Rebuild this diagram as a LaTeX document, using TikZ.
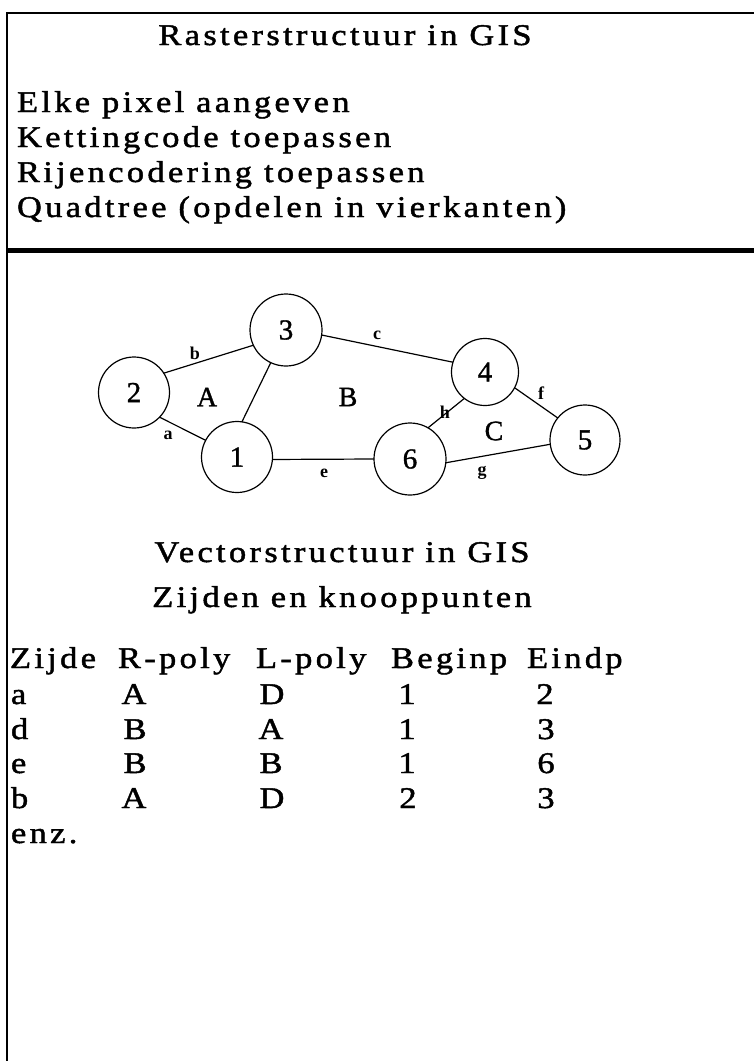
\documentclass[tikz,border=0pt]{standalone}
\usepackage{fontspec}
% wide-set serif for the running text, as on an old monospaced screen
\setmainfont{Liberation Serif}[FakeStretch=1.15, LetterSpace=11, FakeBold=1.5]
\newfontfamily\graphfont{Liberation Serif}[FakeBold=1.2]
\newfontfamily\edgefont{Liberation Serif Bold}
\newcommand{\hoofdfont}{\fontsize{30}{30}\selectfont}

\begin{document}
\begin{tikzpicture}[x=1pt, y=-1pt,
  every node/.style={inner sep=0pt, outer sep=0pt},
  regel/.style={anchor=base west, font=\hoofdfont},
  kop/.style={anchor=base, font=\hoofdfont},
  cel/.style={anchor=base, font=\hoofdfont},
  knoop/.style={circle, draw, line width=1.2pt, font=\graphfont\fontsize{29}{29}\selectfont},
  zijde/.style={line width=1.2pt},
  zlabel/.style={font=\edgefont\fontsize{18}{18}\selectfont},
  vlak/.style={font=\graphfont\fontsize{28}{28}\selectfont},
]
\useasboundingbox (0,0) rectangle (754,1061);
\fill[white] (0,0) rectangle (754,1061);

% frame: top rule, left rule and the heavy divider
\draw[line width=2pt] (754,13) -- (7,13) -- (7,1061);
\draw[line width=5pt] (8,250.5) -- (754,250.5);

% raster part
\node[kop] (rtitel) at (345,45) {Rasterstructuur in GIS};
\node[regel] (r1) at (17,112) {Elke pixel aangeven};
\node[regel] (r2) at (17,147) {Kettingcode toepassen};
\node[regel] (r3) at (17,182) {Rijencodering toepassen};
\node[regel] (r4) at (17,217) {Quadtree (opdelen in vierkanten)};

% vector network
\node[knoop, minimum size=71pt] (n1) at (237,457) {1};
\node[knoop, minimum size=71pt] (n2) at (134,392.5) {2};
\node[knoop, minimum size=72pt] (n3) at (286,330) {3};
\node[knoop, minimum size=67pt] (n4) at (485,372) {4};
\node[knoop, minimum size=70pt] (n5) at (585,440) {5};
\node[knoop, minimum size=72pt] (n6) at (410,459) {6};

\draw[zijde] (n2.-44) -- (n1.152);
\draw[zijde] (n2.33) -- (n3.205);
\draw[zijde] (n3.245) -- (n1.82);
\draw[zijde] (n1.-4) -- (n6.180);
\draw[zijde] (n3.-8) -- (n4.163);
\draw[zijde] (n4.-28) -- (n5.141);
\draw[zijde] (n4.232) -- (n6.60);
\draw[zijde] (n6.-6) -- (n5.187);

\node[zlabel] (la) at (168,435) {a};
\node[zlabel] (lb) at (195,353) {b};
\node[zlabel] (lc) at (377,335) {c};
\node[zlabel] (le) at (324,473) {e};
\node[zlabel] (lf) at (541,393) {f};
\node[zlabel] (lg) at (482,473) {g};
\node[zlabel] (lh) at (445,412) {h};

\node[vlak] (vA) at (207,397) {A};
\node[vlak] (vB) at (348,397) {B};
\node[vlak] (vC) at (494,431) {C};

% vector part titles
\node[kop] (vtitel) at (342,562) {Vectorstructuur in GIS};
\node[kop] (vsub) at (342,607) {Zijden en knooppunten};

% table of edges
\node[regel] (hz) at (10,668) {Zijde};
\node[regel] (hr) at (118,668) {R-poly};
\node[regel] (hl) at (256,668) {L-poly};
\node[regel] (hb) at (391,668) {Beginp};
\node[regel] (he) at (527,668) {Eindp};

\node[regel] (za) at (11,704) {a};
\node[cel] (ra) at (134,704) {A};
\node[cel] (la2) at (272,704) {D};
\node[cel] (ba) at (407,704) {1};
\node[cel] (ea) at (545,704) {2};

\node[regel] (zd) at (11,739) {d};
\node[cel] (rd) at (135,739) {B};
\node[cel] (ld) at (271,739) {A};
\node[cel] (bd) at (407,739) {1};
\node[cel] (ed) at (546,739) {3};

\node[regel] (ze) at (11,773) {e};
\node[cel] (re) at (135,773) {B};
\node[cel] (lE) at (271,773) {B};
\node[cel] (be) at (407,773) {1};
\node[cel] (ee) at (546,773) {6};

\node[regel] (zb) at (11,808) {b};
\node[cel] (rb) at (134,808) {A};
\node[cel] (lbb) at (272,808) {D};
\node[cel] (bb) at (408,808) {2};
\node[cel] (eb) at (546,808) {3};

\node[regel] (enz) at (11,843) {enz.};
\end{tikzpicture}
\end{document}
